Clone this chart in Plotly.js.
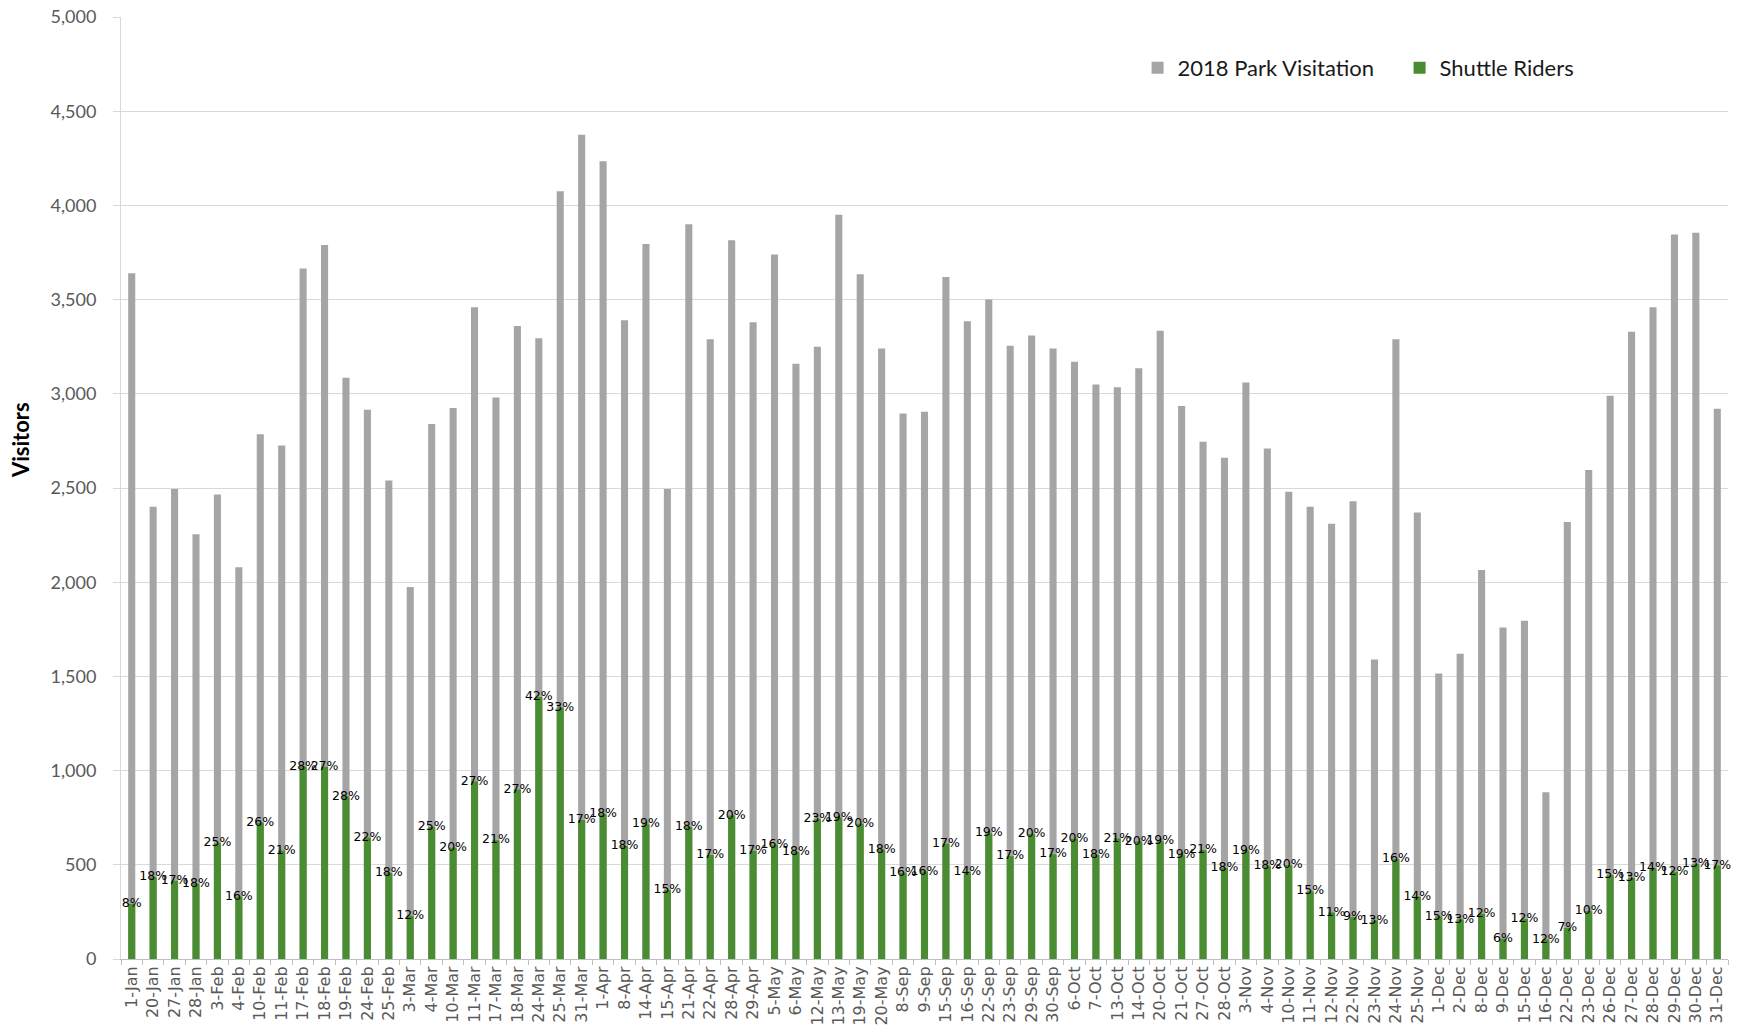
<!DOCTYPE html>
<html>
<head>
<meta charset="utf-8">
<script src="https://cdn.plot.ly/plotly-3.0.1.min.js"></script>
<style>
  html, body { margin: 0; padding: 0; background: #ffffff; }
  #chart { width: 1745px; height: 1029px; }
</style>
</head>
<body>
<div id="chart"></div>
<script>
const dates = ["1-Jan","20-Jan","27-Jan","28-Jan","3-Feb","4-Feb","10-Feb","11-Feb","17-Feb","18-Feb","19-Feb","24-Feb","25-Feb","3-Mar","4-Mar","10-Mar","11-Mar","17-Mar","18-Mar","24-Mar","25-Mar","31-Mar","1-Apr","8-Apr","14-Apr","15-Apr","21-Apr","22-Apr","28-Apr","29-Apr","5-May","6-May","12-May","13-May","19-May","20-May","8-Sep","9-Sep","15-Sep","16-Sep","22-Sep","23-Sep","29-Sep","30-Sep","6-Oct","7-Oct","13-Oct","14-Oct","20-Oct","21-Oct","27-Oct","28-Oct","3-Nov","4-Nov","10-Nov","11-Nov","12-Nov","22-Nov","23-Nov","24-Nov","25-Nov","1-Dec","2-Dec","8-Dec","9-Dec","15-Dec","16-Dec","22-Dec","23-Dec","26-Dec","27-Dec","28-Dec","29-Dec","30-Dec","31-Dec"];

const parkVisitation = [3640,2400,2495,2255,2465,2080,2785,2725,3665,3790,3085,2915,2540,1975,2840,2925,3460,2980,3360,3295,4075,4375,4235,3390,3795,2495,3900,3290,3815,3380,3740,3160,3250,3950,3635,3240,2895,2905,3620,3385,3500,3255,3310,3240,3170,3050,3035,3135,3335,2935,2745,2660,3060,2710,2480,2400,2310,2430,1590,3290,2370,1515,1620,2065,1760,1795,885,2320,2595,2990,3330,3460,3845,3855,2920];

const shuttleRiders = [293,435,415,400,614,331,723,576,1022,1021,863,644,456,230,700,590,942,630,900,1390,1335,738,768,600,715,365,700,552,762,574,607,568,742,751,718,580,458,465,612,464,667,546,663,556,638,552,640,624,626,551,578,483,576,492,498,359,247,222,205,530,331,226,210,240,107,212,104,165,254,444,430,482,463,503,496];

const shuttleShare = ["8%","18%","17%","18%","25%","16%","26%","21%","28%","27%","28%","22%","18%","12%","25%","20%","27%","21%","27%","42%","33%","17%","18%","18%","19%","15%","18%","17%","20%","17%","16%","18%","23%","19%","20%","18%","16%","16%","17%","14%","19%","17%","20%","17%","20%","18%","21%","20%","19%","19%","21%","18%","19%","18%","20%","15%","11%","9%","13%","16%","14%","15%","13%","12%","6%","12%","12%","7%","10%","15%","13%","14%","12%","13%","17%"];

const yTicks = [0,500,1000,1500,2000,2500,3000,3500,4000,4500,5000];

const traces = [
  {
    type: 'bar', name: '2018 Park Visitation', x: dates, y: parkVisitation,
    width: 0.33, marker: {color: '#a5a5a5'}, hoverinfo: 'x+y'
  },
  {
    type: 'bar', name: 'Shuttle Riders', x: dates, y: shuttleRiders,
    width: 0.33, marker: {color: '#4a8c31'}, hoverinfo: 'x+y'
  },
  {
    type: 'scatter', mode: 'text', x: dates, y: shuttleRiders, text: shuttleShare,
    textposition: 'middle center', showlegend: false, hoverinfo: 'skip', cliponaxis: false,
    textfont: {family: 'DejaVu Sans', size: 12.5, color: '#000000'}
  }
];

const layout = {
  width: 1745, height: 1029,
  margin: {l: 121, r: 17, t: 17, b: 70},
  paper_bgcolor: '#ffffff', plot_bgcolor: '#ffffff',
  barmode: 'overlay',
  showlegend: true,
  legend: {
    orientation: 'h', x: 0.6326, xanchor: 'left', y: 0.946, yanchor: 'middle',
    font: {family: 'Lato', size: 22, color: '#1a1a1a'},
    bgcolor: 'rgba(0,0,0,0)', itemwidth: 30, entrywidth: 217, entrywidthmode: 'pixels',
    traceorder: 'normal'
  },
  xaxis: {
    type: 'category', range: [-0.5, dates.length - 0.5], autorange: false,
    showgrid: false, showline: true, linecolor: '#bfbfbf', linewidth: 1,
    ticks: 'outside', tickson: 'boundaries', ticklen: 5, tickcolor: '#bfbfbf',
    tickangle: -90, tickfont: {family: 'DejaVu Sans', size: 16, color: '#595959'},
    zeroline: false, fixedrange: true
  },
  yaxis: {
    range: [0, 5000], autorange: false, tickvals: yTicks, tickformat: ',d',
    showgrid: true, gridcolor: '#d9d9d9', gridwidth: 1,
    showline: true, linecolor: '#d9d9d9', linewidth: 1,
    ticks: 'outside', ticklen: 7, tickcolor: '#d9d9d9', ticklabelstandoff: 13,
    tickfont: {family: 'Lato', size: 18, color: '#595959'},
    zeroline: false, fixedrange: true
  },
  annotations: [
    {
      text: '<b>Visitors</b>', textangle: -90, xref: 'paper', yref: 'paper',
      x: -0.0622, y: 0.551, xanchor: 'center', yanchor: 'middle', showarrow: false,
      font: {family: 'Lato', size: 22, color: '#000000'}
    }
  ]
};

Plotly.newPlot('chart', traces, layout, {displayModeBar: false, staticPlot: true});
</script>
</body>
</html>
